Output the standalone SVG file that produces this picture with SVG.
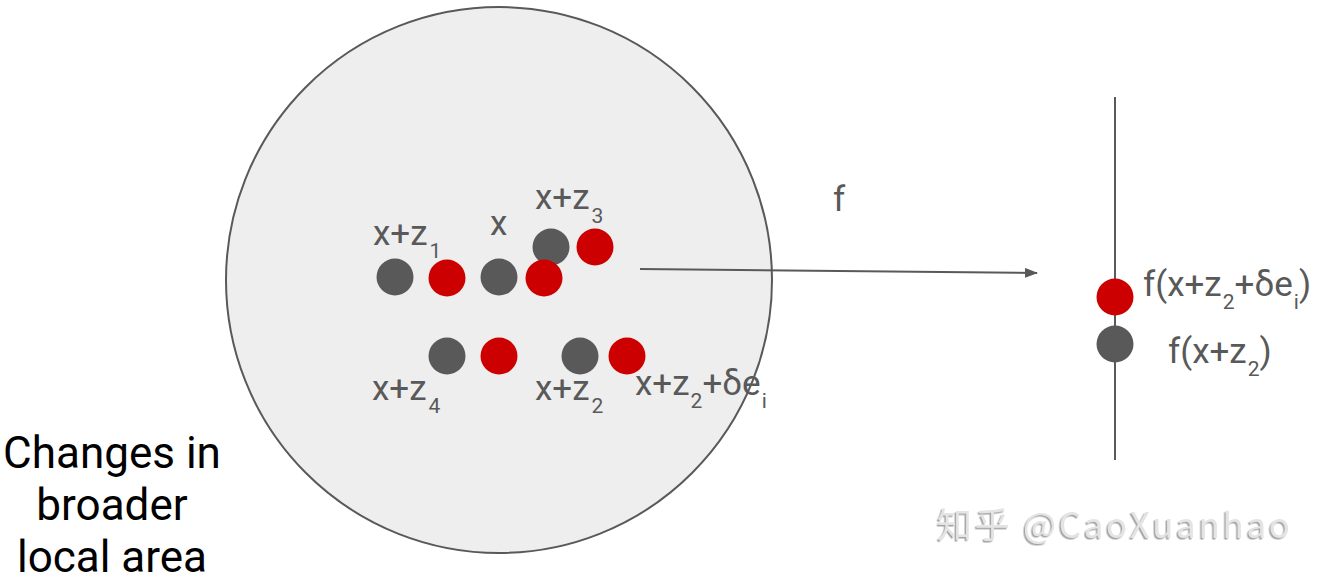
<svg xmlns="http://www.w3.org/2000/svg" width="1325" height="582" viewBox="0 0 1325 582">
<defs>
<style>
.lbl{font-family:Roboto,"Liberation Sans",sans-serif;font-size:35px;fill:#595959}
.sub{font-size:21px}
.big{font-family:Roboto,"Liberation Sans",sans-serif;font-size:44px;fill:#000;text-anchor:middle}
.g{fill:#595959}
.r{fill:#cc0000}
.wm{font-family:"Noto Sans CJK SC","Liberation Sans",sans-serif;font-size:35px;fill:#e4e4e4}
</style>
<marker id="ah" markerWidth="13" markerHeight="10" refX="12" refY="5" orient="auto" markerUnits="userSpaceOnUse">
<path d="M0,0 L13,5 L0,10 Z" fill="#595959"/>
</marker>
<filter id="sh" x="-5%" y="-20%" width="110%" height="140%">
<feDropShadow dx="-1.5" dy="1.5" stdDeviation="0.6" flood-color="#9a9a9a" flood-opacity="0.9"/>
</filter>
</defs>
<rect width="1325" height="582" fill="#fff"/>
<g id="area">
<circle cx="499" cy="280" r="273" fill="#eeeeee" stroke="#595959" stroke-width="2"/>
</g>
<g id="axis">
<line x1="1115" y1="97" x2="1115" y2="460" stroke="#595959" stroke-width="2"/>
</g>
<g id="connectors">
<line x1="640" y1="269" x2="1037" y2="273" stroke="#595959" stroke-width="2" marker-end="url(#ah)"/>
</g>
<g id="points">
<circle class="g" cx="395" cy="277" r="18.5"/>
<circle class="r" cx="447" cy="278" r="18.5"/>
<circle class="g" cx="499" cy="277" r="18.5"/>
<circle class="g" cx="551" cy="247" r="18.5"/>
<circle class="r" cx="544" cy="278" r="18.5"/>
<circle class="r" cx="595" cy="247" r="18.5"/>
<circle class="g" cx="447" cy="356" r="18.5"/>
<circle class="r" cx="499" cy="356" r="18.5"/>
<circle class="g" cx="580" cy="356" r="18.5"/>
<circle class="r" cx="627" cy="356" r="18.5"/>
<circle class="r" cx="1115" cy="297" r="18.5"/>
<circle class="g" cx="1115" cy="344" r="18.5"/>
</g>
<g id="labels">
<text class="lbl" x="373" y="245">x+z<tspan class="sub" dx="2" dy="13">1</tspan></text>
<text class="lbl" x="490" y="235">x</text>
<text class="lbl" x="535" y="209">x+z<tspan class="sub" dx="2" dy="14">3</tspan></text>
<text class="lbl" x="372" y="400">x+z<tspan class="sub" dx="2" dy="13">4</tspan></text>
<text class="lbl" x="535" y="400">x+z<tspan class="sub" dx="2" dy="13">2</tspan></text>
<text class="lbl" x="635" y="395">x+z<tspan class="sub" dx="1" dy="13">2</tspan><tspan dy="-13">+δe</tspan><tspan class="sub" dx="1" dy="13">i</tspan></text>
<text class="lbl" x="833" y="211">f</text>
<text class="lbl" x="1143" y="296">f(x+z<tspan class="sub" dx="1" dy="13">2</tspan><tspan dy="-13">+δe</tspan><tspan class="sub" dx="1" dy="13">i</tspan><tspan dy="-13">)</tspan></text>
<text class="lbl" x="1168" y="363">f(x+z<tspan class="sub" dx="1" dy="13">2</tspan><tspan dy="-13">)</tspan></text>
</g>
<g id="caption">
<text class="big" x="112" y="468">Changes in</text>
<text class="big" x="112" y="520">broader</text>
<text class="big" x="112" y="572">local area</text>
</g>
<g id="watermark">
<text class="wm" x="937" y="538" textLength="353" filter="url(#sh)">知乎 @CaoXuanhao</text>
</g>
</svg>
